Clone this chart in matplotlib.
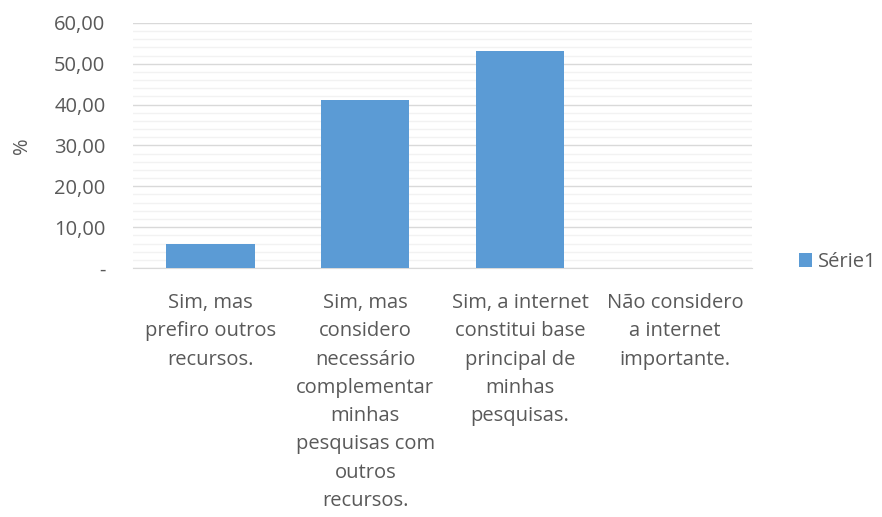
import matplotlib
matplotlib.use("Agg")
import matplotlib.pyplot as plt
from matplotlib.ticker import MultipleLocator, FuncFormatter
from matplotlib.patches import Patch

categories = [
    "Sim, mas\nprefiro outros\nrecursos.",
    "Sim, mas\nconsidero\nnecessário\ncomplementar\nminhas\npesquisas com\noutros\nrecursos.",
    "Sim, a internet\nconstitui base\nprincipal de\nminhas\npesquisas.",
    "Não considero\na internet\nimportante.",
]
values = [5.9, 41.1, 53.1, 0.0]
series_name = "Série1"

plt.rcParams["font.family"] = ["Open Sans", "DejaVu Sans"]
text_color = "#595959"
bar_color = "#5b9bd5"
fs = 14.5

fig = plt.figure(figsize=(8.82, 5.17), dpi=100)
ax = fig.add_axes([0.151, 0.4816, 0.702, 0.474])

x = list(range(len(categories)))
ax.bar(x, values, width=0.57, color=bar_color, zorder=3)

ax.set_xlim(-0.5, len(categories) - 0.5)
ax.set_ylim(0, 60)
ax.yaxis.set_major_locator(MultipleLocator(10))
ax.yaxis.set_minor_locator(MultipleLocator(2))

def fmt(v, pos):
    if abs(v) < 1e-9:
        return "-"
    return f"{v:.2f}".replace(".", ",")

ax.yaxis.set_major_formatter(FuncFormatter(fmt))
ax.grid(axis="y", which="major", color="#d9d9d9", linewidth=1.0, zorder=0)
ax.grid(axis="y", which="minor", color="#f2f2f2", linewidth=1.0, zorder=0)

for s in ["top", "right", "left"]:
    ax.spines[s].set_visible(False)
ax.spines["bottom"].set_color("#d9d9d9")

ax.tick_params(axis="y", which="both", length=0, labelsize=fs, labelcolor=text_color, pad=20)
ax.tick_params(axis="x", length=0)
ax.set_xticks(x)
ax.set_xticklabels([])
for xi, lab in zip(x, categories):
    ax.annotate(lab, xy=(xi, 0), xycoords=("data", "axes fraction"),
                xytext=(0, -18), textcoords="offset points",
                ha="center", va="top", fontsize=fs, color=text_color,
                linespacing=1.55)

ax.set_ylabel("%", fontsize=fs, color=text_color, labelpad=16)

handles = [Patch(facecolor=bar_color, edgecolor="none", label=series_name)]
fig.legend(handles=handles, loc="center left", bbox_to_anchor=(0.885, 0.493),
           frameon=False, fontsize=fs, labelcolor=text_color,
           handlelength=0.65, handleheight=0.65, handletextpad=0.3)

fig.savefig("out.png", dpi=100)
